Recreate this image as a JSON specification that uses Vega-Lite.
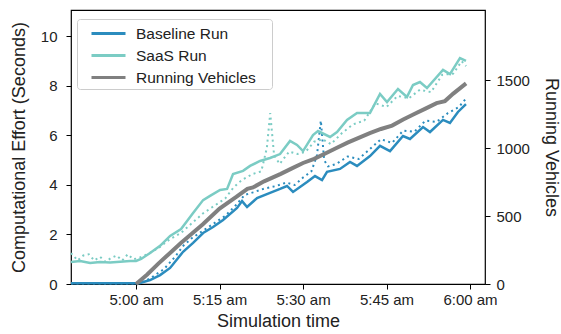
{
  "$schema": "https://vega.github.io/schema/vega-lite/v6.json",
  "width": 414,
  "height": 274,
  "autosize": {"type": "none"},
  "padding": {"left": 71, "top": 10, "right": 76, "bottom": 50},
  "config": {
    "font": "Liberation Sans",
    "view": {"stroke": "#000000", "strokeWidth": 1.2},
    "axis": {
      "domain": false, "grid": false, "tickColor": "#000000", "tickSize": 5, "tickWidth": 1,
      "labelColor": "#222222", "titleColor": "#222222", "labelFontSize": 15, "titleFontSize": 18,
      "titleFontWeight": "normal", "labelFont": "Liberation Sans", "titleFont": "Liberation Sans"
    },
    "legend": {
      "labelFont": "Liberation Sans", "labelFontSize": 15.5, "labelColor": "#222222"
    }
  },
  "datasets": {
    "effort": [
      {"t": -11.7, "v": 0.03, "run": "Baseline Run", "style": "solid"},
      {"t": -6, "v": 0.03, "run": "Baseline Run", "style": "solid"},
      {"t": 0, "v": 0.03, "run": "Baseline Run", "style": "solid"},
      {"t": 0.7, "v": 0.04, "run": "Baseline Run", "style": "solid"},
      {"t": 2.51, "v": 0.16, "run": "Baseline Run", "style": "solid"},
      {"t": 4.31, "v": 0.36, "run": "Baseline Run", "style": "solid"},
      {"t": 6.11, "v": 0.65, "run": "Baseline Run", "style": "solid"},
      {"t": 8.44, "v": 1.3, "run": "Baseline Run", "style": "solid"},
      {"t": 10.24, "v": 1.66, "run": "Baseline Run", "style": "solid"},
      {"t": 12.04, "v": 2.06, "run": "Baseline Run", "style": "solid"},
      {"t": 13.83, "v": 2.3, "run": "Baseline Run", "style": "solid"},
      {"t": 15.63, "v": 2.59, "run": "Baseline Run", "style": "solid"},
      {"t": 18.14, "v": 3.07, "run": "Baseline Run", "style": "solid"},
      {"t": 19.04, "v": 3.35, "run": "Baseline Run", "style": "solid"},
      {"t": 19.94, "v": 3.11, "run": "Baseline Run", "style": "solid"},
      {"t": 21.73, "v": 3.47, "run": "Baseline Run", "style": "solid"},
      {"t": 24.07, "v": 3.68, "run": "Baseline Run", "style": "solid"},
      {"t": 25.87, "v": 3.84, "run": "Baseline Run", "style": "solid"},
      {"t": 27.12, "v": 3.96, "run": "Baseline Run", "style": "solid"},
      {"t": 28.2, "v": 3.72, "run": "Baseline Run", "style": "solid"},
      {"t": 30.72, "v": 4.12, "run": "Baseline Run", "style": "solid"},
      {"t": 32.15, "v": 4.36, "run": "Baseline Run", "style": "solid"},
      {"t": 33.41, "v": 4.2, "run": "Baseline Run", "style": "solid"},
      {"t": 34.31, "v": 4.53, "run": "Baseline Run", "style": "solid"},
      {"t": 36.64, "v": 4.65, "run": "Baseline Run", "style": "solid"},
      {"t": 38.44, "v": 4.93, "run": "Baseline Run", "style": "solid"},
      {"t": 39.7, "v": 4.77, "run": "Baseline Run", "style": "solid"},
      {"t": 42.03, "v": 5.17, "run": "Baseline Run", "style": "solid"},
      {"t": 43.83, "v": 5.58, "run": "Baseline Run", "style": "solid"},
      {"t": 45.63, "v": 5.37, "run": "Baseline Run", "style": "solid"},
      {"t": 47.96, "v": 5.98, "run": "Baseline Run", "style": "solid"},
      {"t": 49.22, "v": 5.86, "run": "Baseline Run", "style": "solid"},
      {"t": 51.56, "v": 6.34, "run": "Baseline Run", "style": "solid"},
      {"t": 52.81, "v": 6.14, "run": "Baseline Run", "style": "solid"},
      {"t": 55.15, "v": 6.63, "run": "Baseline Run", "style": "solid"},
      {"t": 56.4, "v": 6.51, "run": "Baseline Run", "style": "solid"},
      {"t": 57.84, "v": 6.95, "run": "Baseline Run", "style": "solid"},
      {"t": 59.28, "v": 7.27, "run": "Baseline Run", "style": "solid"},

      {"t": -11.7, "v": 0.89, "run": "SaaS Run", "style": "solid"},
      {"t": -10.06, "v": 0.93, "run": "SaaS Run", "style": "solid"},
      {"t": -8.26, "v": 0.85, "run": "SaaS Run", "style": "solid"},
      {"t": -6.47, "v": 0.89, "run": "SaaS Run", "style": "solid"},
      {"t": -4.67, "v": 0.87, "run": "SaaS Run", "style": "solid"},
      {"t": -2.87, "v": 0.9, "run": "SaaS Run", "style": "solid"},
      {"t": -1.08, "v": 0.93, "run": "SaaS Run", "style": "solid"},
      {"t": 0, "v": 0.93, "run": "SaaS Run", "style": "solid"},
      {"t": 0.9, "v": 1.01, "run": "SaaS Run", "style": "solid"},
      {"t": 2.51, "v": 1.25, "run": "SaaS Run", "style": "solid"},
      {"t": 4.31, "v": 1.54, "run": "SaaS Run", "style": "solid"},
      {"t": 6.11, "v": 1.94, "run": "SaaS Run", "style": "solid"},
      {"t": 8.08, "v": 2.22, "run": "SaaS Run", "style": "solid"},
      {"t": 10.24, "v": 2.87, "run": "SaaS Run", "style": "solid"},
      {"t": 12.04, "v": 3.39, "run": "SaaS Run", "style": "solid"},
      {"t": 13.29, "v": 3.56, "run": "SaaS Run", "style": "solid"},
      {"t": 15.09, "v": 3.8, "run": "SaaS Run", "style": "solid"},
      {"t": 16.35, "v": 3.84, "run": "SaaS Run", "style": "solid"},
      {"t": 17.42, "v": 4.44, "run": "SaaS Run", "style": "solid"},
      {"t": 19.22, "v": 4.57, "run": "SaaS Run", "style": "solid"},
      {"t": 20.48, "v": 4.77, "run": "SaaS Run", "style": "solid"},
      {"t": 22.27, "v": 4.97, "run": "SaaS Run", "style": "solid"},
      {"t": 24.07, "v": 5.09, "run": "SaaS Run", "style": "solid"},
      {"t": 25.87, "v": 5.25, "run": "SaaS Run", "style": "solid"},
      {"t": 27.66, "v": 5.78, "run": "SaaS Run", "style": "solid"},
      {"t": 28.92, "v": 5.62, "run": "SaaS Run", "style": "solid"},
      {"t": 30.0, "v": 5.37, "run": "SaaS Run", "style": "solid"},
      {"t": 31.79, "v": 6.02, "run": "SaaS Run", "style": "solid"},
      {"t": 32.69, "v": 6.18, "run": "SaaS Run", "style": "solid"},
      {"t": 34.85, "v": 5.94, "run": "SaaS Run", "style": "solid"},
      {"t": 36.11, "v": 6.14, "run": "SaaS Run", "style": "solid"},
      {"t": 37.9, "v": 6.63, "run": "SaaS Run", "style": "solid"},
      {"t": 39.7, "v": 6.91, "run": "SaaS Run", "style": "solid"},
      {"t": 42.03, "v": 6.91, "run": "SaaS Run", "style": "solid"},
      {"t": 43.83, "v": 7.68, "run": "SaaS Run", "style": "solid"},
      {"t": 45.09, "v": 7.35, "run": "SaaS Run", "style": "solid"},
      {"t": 47.06, "v": 7.88, "run": "SaaS Run", "style": "solid"},
      {"t": 48.68, "v": 7.56, "run": "SaaS Run", "style": "solid"},
      {"t": 49.76, "v": 8.04, "run": "SaaS Run", "style": "solid"},
      {"t": 51.01, "v": 8.16, "run": "SaaS Run", "style": "solid"},
      {"t": 52.27, "v": 7.92, "run": "SaaS Run", "style": "solid"},
      {"t": 55.15, "v": 8.65, "run": "SaaS Run", "style": "solid"},
      {"t": 56.4, "v": 8.48, "run": "SaaS Run", "style": "solid"},
      {"t": 58.2, "v": 9.13, "run": "SaaS Run", "style": "solid"},
      {"t": 59.28, "v": 9.01, "run": "SaaS Run", "style": "solid"},

      {"t": -11.7, "v": 0.02, "run": "Baseline Run", "style": "dotted"},
      {"t": 0, "v": 0.02, "run": "Baseline Run", "style": "dotted"},
      {"t": 1.5, "v": 0.1, "run": "Baseline Run", "style": "dotted"},
      {"t": 3, "v": 0.3, "run": "Baseline Run", "style": "dotted"},
      {"t": 5, "v": 0.6, "run": "Baseline Run", "style": "dotted"},
      {"t": 7, "v": 1.1, "run": "Baseline Run", "style": "dotted"},
      {"t": 8.5, "v": 1.55, "run": "Baseline Run", "style": "dotted"},
      {"t": 10, "v": 1.85, "run": "Baseline Run", "style": "dotted"},
      {"t": 12, "v": 2.15, "run": "Baseline Run", "style": "dotted"},
      {"t": 14, "v": 2.45, "run": "Baseline Run", "style": "dotted"},
      {"t": 16, "v": 2.75, "run": "Baseline Run", "style": "dotted"},
      {"t": 18, "v": 3.2, "run": "Baseline Run", "style": "dotted"},
      {"t": 19.5, "v": 3.6, "run": "Baseline Run", "style": "dotted"},
      {"t": 21, "v": 3.7, "run": "Baseline Run", "style": "dotted"},
      {"t": 23, "v": 3.85, "run": "Baseline Run", "style": "dotted"},
      {"t": 25, "v": 3.95, "run": "Baseline Run", "style": "dotted"},
      {"t": 27, "v": 4.1, "run": "Baseline Run", "style": "dotted"},
      {"t": 28.5, "v": 4.0, "run": "Baseline Run", "style": "dotted"},
      {"t": 30, "v": 4.3, "run": "Baseline Run", "style": "dotted"},
      {"t": 31.5, "v": 4.55, "run": "Baseline Run", "style": "dotted"},
      {"t": 32.5, "v": 5.2, "run": "Baseline Run", "style": "dotted"},
      {"t": 33.2, "v": 6.6, "run": "Baseline Run", "style": "dotted"},
      {"t": 33.8, "v": 5.0, "run": "Baseline Run", "style": "dotted"},
      {"t": 34.5, "v": 4.75, "run": "Baseline Run", "style": "dotted"},
      {"t": 36, "v": 4.85, "run": "Baseline Run", "style": "dotted"},
      {"t": 38, "v": 5.15, "run": "Baseline Run", "style": "dotted"},
      {"t": 40, "v": 5.05, "run": "Baseline Run", "style": "dotted"},
      {"t": 42, "v": 5.45, "run": "Baseline Run", "style": "dotted"},
      {"t": 44, "v": 5.85, "run": "Baseline Run", "style": "dotted"},
      {"t": 46, "v": 5.7, "run": "Baseline Run", "style": "dotted"},
      {"t": 48, "v": 6.2, "run": "Baseline Run", "style": "dotted"},
      {"t": 50, "v": 6.15, "run": "Baseline Run", "style": "dotted"},
      {"t": 52, "v": 6.6, "run": "Baseline Run", "style": "dotted"},
      {"t": 54, "v": 6.55, "run": "Baseline Run", "style": "dotted"},
      {"t": 56, "v": 6.9, "run": "Baseline Run", "style": "dotted"},
      {"t": 58, "v": 7.15, "run": "Baseline Run", "style": "dotted"},
      {"t": 59.3, "v": 7.5, "run": "Baseline Run", "style": "dotted"},

      {"t": -11.7, "v": 1.25, "run": "SaaS Run", "style": "dotted"},
      {"t": -10.5, "v": 0.95, "run": "SaaS Run", "style": "dotted"},
      {"t": -9.5, "v": 1.15, "run": "SaaS Run", "style": "dotted"},
      {"t": -8.5, "v": 1.2, "run": "SaaS Run", "style": "dotted"},
      {"t": -7.5, "v": 0.95, "run": "SaaS Run", "style": "dotted"},
      {"t": -6.5, "v": 1.1, "run": "SaaS Run", "style": "dotted"},
      {"t": -5.5, "v": 0.9, "run": "SaaS Run", "style": "dotted"},
      {"t": -4.5, "v": 1.05, "run": "SaaS Run", "style": "dotted"},
      {"t": -3.5, "v": 1.15, "run": "SaaS Run", "style": "dotted"},
      {"t": -2.5, "v": 0.95, "run": "SaaS Run", "style": "dotted"},
      {"t": -1.5, "v": 1.2, "run": "SaaS Run", "style": "dotted"},
      {"t": -0.5, "v": 1.0, "run": "SaaS Run", "style": "dotted"},
      {"t": 0.5, "v": 1.05, "run": "SaaS Run", "style": "dotted"},
      {"t": 2, "v": 1.2, "run": "SaaS Run", "style": "dotted"},
      {"t": 4, "v": 1.45, "run": "SaaS Run", "style": "dotted"},
      {"t": 6, "v": 1.8, "run": "SaaS Run", "style": "dotted"},
      {"t": 8, "v": 2.05, "run": "SaaS Run", "style": "dotted"},
      {"t": 10, "v": 2.45, "run": "SaaS Run", "style": "dotted"},
      {"t": 12, "v": 2.85, "run": "SaaS Run", "style": "dotted"},
      {"t": 14, "v": 3.15, "run": "SaaS Run", "style": "dotted"},
      {"t": 16, "v": 3.45, "run": "SaaS Run", "style": "dotted"},
      {"t": 17.5, "v": 3.9, "run": "SaaS Run", "style": "dotted"},
      {"t": 19, "v": 4.2, "run": "SaaS Run", "style": "dotted"},
      {"t": 21, "v": 4.45, "run": "SaaS Run", "style": "dotted"},
      {"t": 22.5, "v": 4.55, "run": "SaaS Run", "style": "dotted"},
      {"t": 23.5, "v": 5.5, "run": "SaaS Run", "style": "dotted"},
      {"t": 24.1, "v": 6.9, "run": "SaaS Run", "style": "dotted"},
      {"t": 24.8, "v": 5.2, "run": "SaaS Run", "style": "dotted"},
      {"t": 25.8, "v": 4.85, "run": "SaaS Run", "style": "dotted"},
      {"t": 27.5, "v": 5.35, "run": "SaaS Run", "style": "dotted"},
      {"t": 29, "v": 5.25, "run": "SaaS Run", "style": "dotted"},
      {"t": 30.5, "v": 5.35, "run": "SaaS Run", "style": "dotted"},
      {"t": 32, "v": 5.75, "run": "SaaS Run", "style": "dotted"},
      {"t": 33.5, "v": 5.85, "run": "SaaS Run", "style": "dotted"},
      {"t": 35, "v": 5.65, "run": "SaaS Run", "style": "dotted"},
      {"t": 37, "v": 6.1, "run": "SaaS Run", "style": "dotted"},
      {"t": 39, "v": 6.45, "run": "SaaS Run", "style": "dotted"},
      {"t": 41, "v": 6.6, "run": "SaaS Run", "style": "dotted"},
      {"t": 43, "v": 7.3, "run": "SaaS Run", "style": "dotted"},
      {"t": 45, "v": 7.15, "run": "SaaS Run", "style": "dotted"},
      {"t": 47, "v": 7.6, "run": "SaaS Run", "style": "dotted"},
      {"t": 49, "v": 7.5, "run": "SaaS Run", "style": "dotted"},
      {"t": 51, "v": 7.85, "run": "SaaS Run", "style": "dotted"},
      {"t": 53, "v": 7.75, "run": "SaaS Run", "style": "dotted"},
      {"t": 55, "v": 8.45, "run": "SaaS Run", "style": "dotted"},
      {"t": 57, "v": 8.5, "run": "SaaS Run", "style": "dotted"},
      {"t": 58.5, "v": 9.0, "run": "SaaS Run", "style": "dotted"},
      {"t": 59.3, "v": 8.8, "run": "SaaS Run", "style": "dotted"}
    ],
    "vehicles": [
      {"t": 0, "n": 0, "run": "Running Vehicles"},
      {"t": 2, "n": 70, "run": "Running Vehicles"},
      {"t": 4, "n": 150, "run": "Running Vehicles"},
      {"t": 6, "n": 225, "run": "Running Vehicles"},
      {"t": 8, "n": 300, "run": "Running Vehicles"},
      {"t": 10, "n": 370, "run": "Running Vehicles"},
      {"t": 12, "n": 440, "run": "Running Vehicles"},
      {"t": 15, "n": 555, "run": "Running Vehicles"},
      {"t": 18, "n": 640, "run": "Running Vehicles"},
      {"t": 20, "n": 700, "run": "Running Vehicles"},
      {"t": 21, "n": 710, "run": "Running Vehicles"},
      {"t": 23, "n": 755, "run": "Running Vehicles"},
      {"t": 26, "n": 810, "run": "Running Vehicles"},
      {"t": 28, "n": 850, "run": "Running Vehicles"},
      {"t": 30, "n": 890, "run": "Running Vehicles"},
      {"t": 32, "n": 920, "run": "Running Vehicles"},
      {"t": 34, "n": 960, "run": "Running Vehicles"},
      {"t": 36, "n": 1000, "run": "Running Vehicles"},
      {"t": 38, "n": 1040, "run": "Running Vehicles"},
      {"t": 40, "n": 1075, "run": "Running Vehicles"},
      {"t": 42, "n": 1110, "run": "Running Vehicles"},
      {"t": 44, "n": 1140, "run": "Running Vehicles"},
      {"t": 46, "n": 1165, "run": "Running Vehicles"},
      {"t": 48, "n": 1210, "run": "Running Vehicles"},
      {"t": 50, "n": 1250, "run": "Running Vehicles"},
      {"t": 52, "n": 1290, "run": "Running Vehicles"},
      {"t": 54, "n": 1330, "run": "Running Vehicles"},
      {"t": 55.5, "n": 1345, "run": "Running Vehicles"},
      {"t": 57, "n": 1400, "run": "Running Vehicles"},
      {"t": 59.3, "n": 1475, "run": "Running Vehicles"}
    ]
  },
  "encoding": {
    "x": {
      "field": "t", "type": "quantitative",
      "scale": {"domain": [-11.7, 62.7], "nice": false, "zero": false},
      "axis": {
        "title": "Simulation time", "values": [0, 15, 30, 45, 60], "labelPadding": 3, "titlePadding": 5,
        "labelExpr": "datum.value == 0 ? '5:00 am' : datum.value == 15 ? '5:15 am' : datum.value == 30 ? '5:30 am' : datum.value == 45 ? '5:45 am' : '6:00 am'"
      }
    }
  },
  "layer": [
    {
      "layer": [
        {
          "data": {"name": "effort"},
          "transform": [{"filter": "datum.style == 'dotted'"}],
          "mark": {"type": "line", "strokeWidth": 2, "strokeDash": [2, 3.5]},
          "encoding": {
            "y": {"field": "v", "type": "quantitative"},
            "color": {"field": "run", "type": "nominal"},
            "detail": {"field": "run"}
          }
        },
        {
          "data": {"name": "effort"},
          "transform": [{"filter": "datum.style == 'solid'"}],
          "mark": {"type": "line", "strokeWidth": 2.5},
          "encoding": {
            "y": {
              "field": "v", "type": "quantitative",
              "scale": {"domain": [0, 11.07], "nice": false},
              "axis": {"title": "Computational Effort (Seconds)", "values": [0, 2, 4, 6, 8, 10], "labelPadding": 9, "titlePadding": 12}
            },
            "color": {
              "field": "run", "type": "nominal",
              "scale": {"domain": ["Baseline Run", "SaaS Run", "Running Vehicles"], "range": ["#2b8cbe", "#7bccc4", "#808080"]},
              "legend": {
                "title": "\u00a0", "titleOrient": "right", "titlePadding": 13, "titleFontSize": 2,
                "orient": "none", "legendX": 6, "legendY": 9,
                "symbolType": "M-1.7,0H1.7", "symbolSize": 400, "symbolStrokeWidth": 3,
                "symbolOffset": 17, "labelOffset": 16, "padding": 3, "rowPadding": 2,
                "strokeColor": "#cccccc", "fillColor": "rgba(255,255,255,0.85)", "cornerRadius": 3
              }
            }
          }
        }
      ]
    },
    {
      "data": {"name": "vehicles"},
      "mark": {"type": "line", "strokeWidth": 4},
      "encoding": {
        "y": {
          "field": "n", "type": "quantitative",
          "scale": {"domain": [0, 2015], "nice": false},
          "axis": {"title": "Running Vehicles", "orient": "right", "values": [0, 500, 1000, 1500], "format": "d", "labelPadding": 6, "titlePadding": 12}
        },
        "color": {"field": "run", "type": "nominal"}
      }
    }
  ],
  "resolve": {"scale": {"y": "independent"}, "axis": {"y": "independent"}}
}
